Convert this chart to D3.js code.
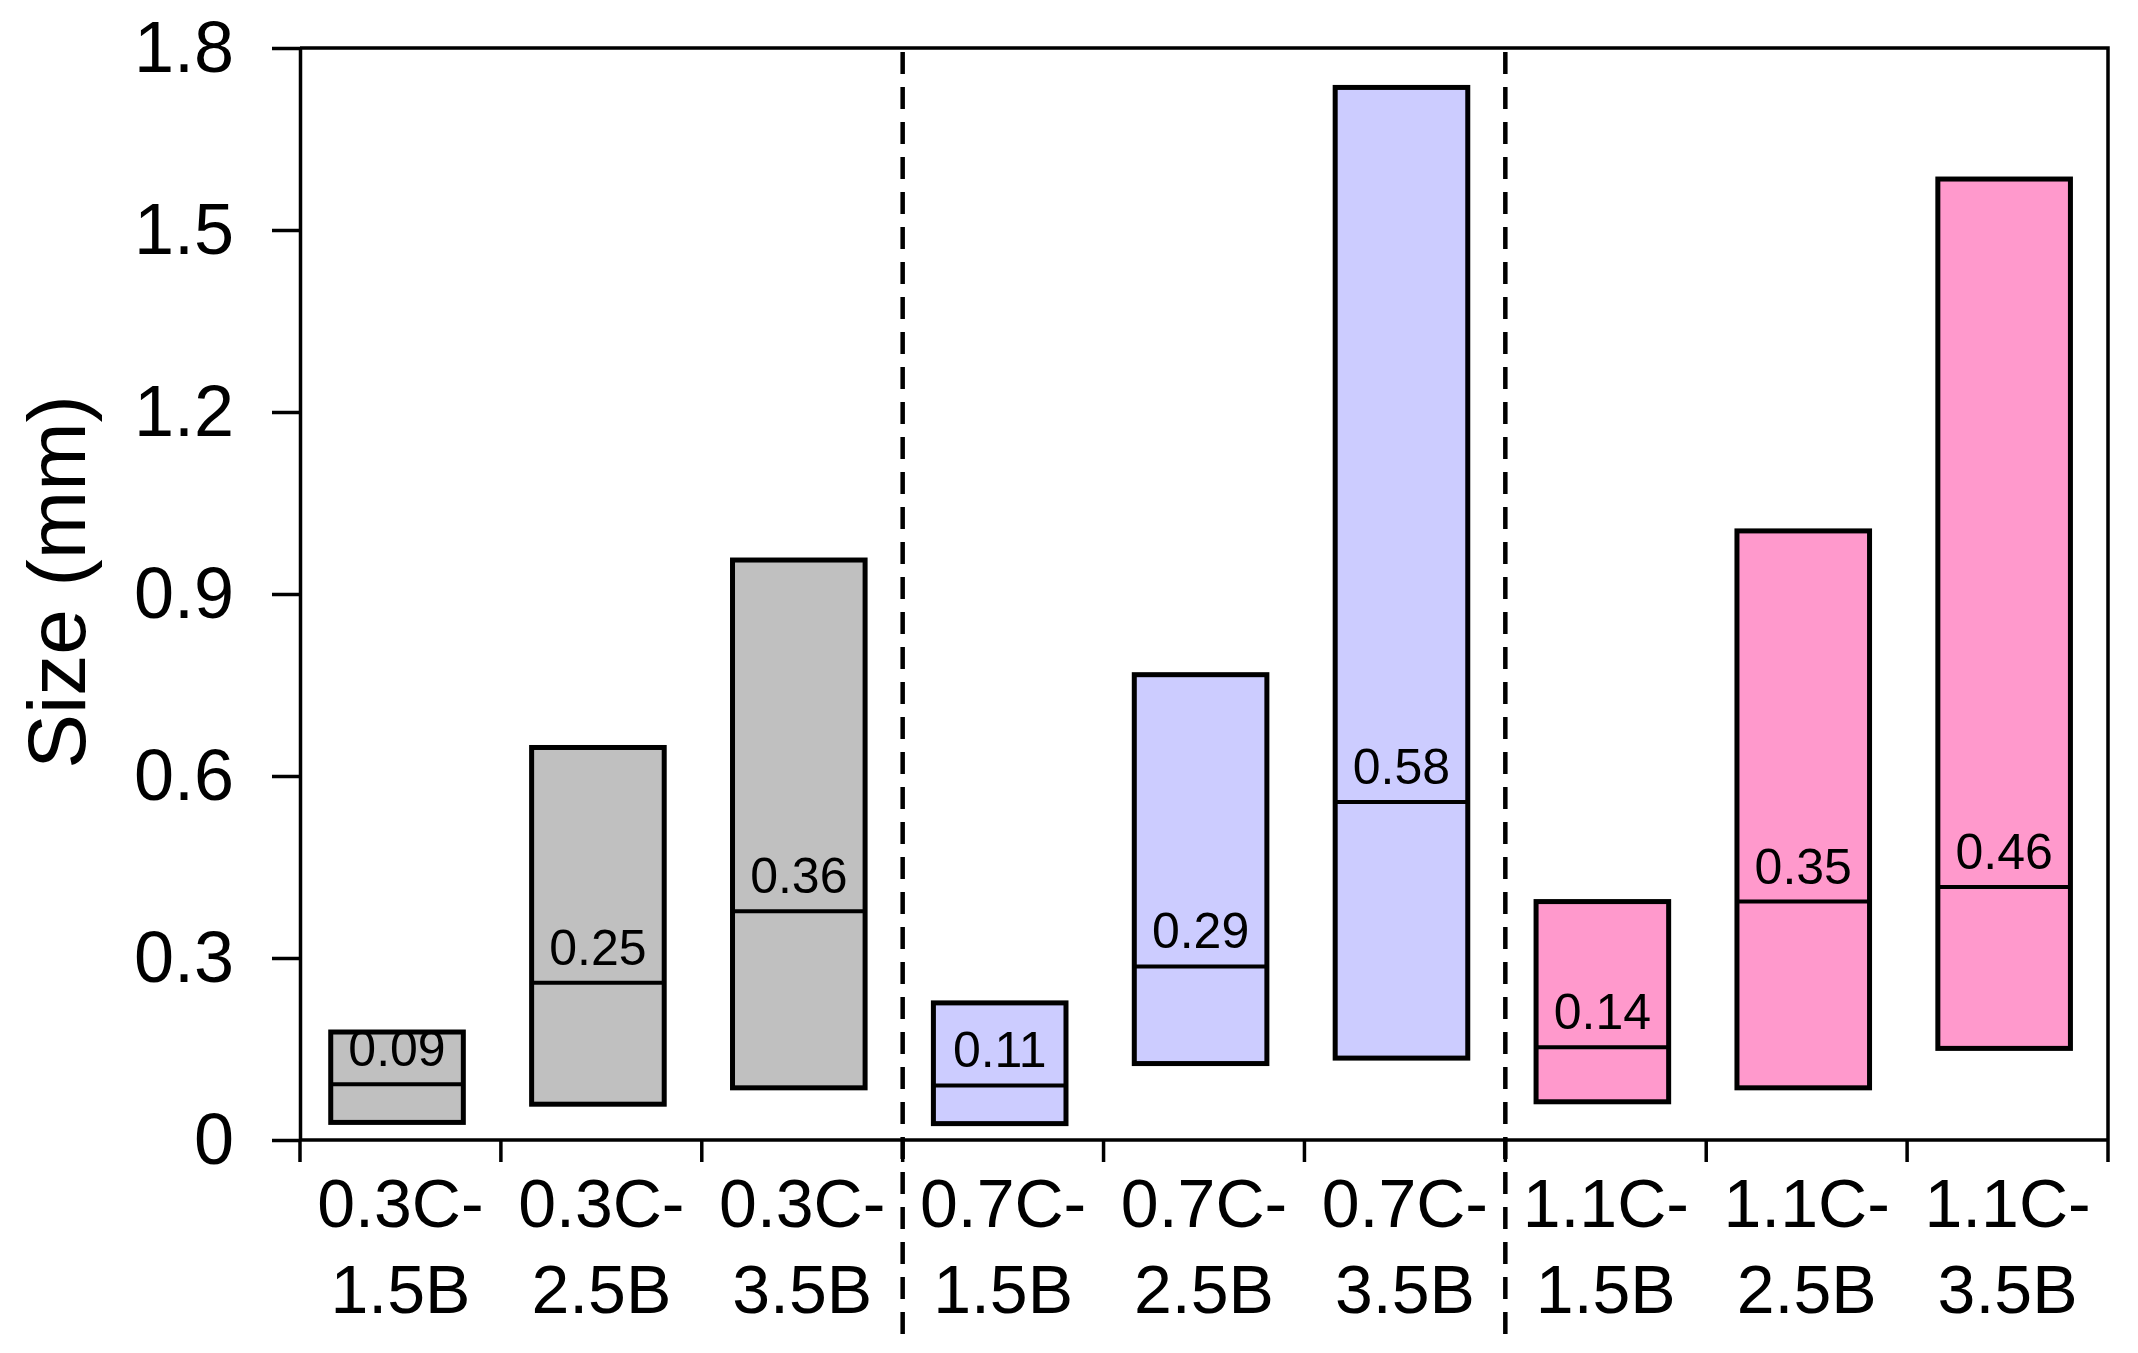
<!DOCTYPE html>
<html>
<head>
<meta charset="utf-8">
<script src="https://cdn.jsdelivr.net/npm/d3@7"></script>
<style>
  body { margin: 0; background: #fff; }
  svg { display: block; }
  text { font-family: "Liberation Sans", Arial, sans-serif; fill: #000; }
</style>
</head>
<body>
<svg id="chart"></svg>
<script>
// categories (two-line labels)
const labelTop = ["0.3C-", "0.3C-", "0.3C-", "0.7C-", "0.7C-", "0.7C-", "1.1C-", "1.1C-", "1.1C-"];
const labelBottom = ["1.5B", "2.5B", "3.5B", "1.5B", "2.5B", "3.5B", "1.5B", "2.5B", "3.5B"];
const categories = labelTop.map((t, i) => t + labelBottom[i]);

// range of sizes (mm) and median
const lows    = [0.029, 0.059, 0.086, 0.027, 0.126, 0.135, 0.063, 0.086, 0.151];
const highs   = [0.178, 0.647, 0.956, 0.226, 0.767, 1.735, 0.393, 1.004, 1.584];
const medians = [0.092, 0.259, 0.377, 0.090, 0.286, 0.557, 0.153, 0.393, 0.417];
const medianLabels = ["0.09", "0.25", "0.36", "0.11", "0.29", "0.58", "0.14", "0.35", "0.46"];
const groups = [0, 0, 0, 1, 1, 1, 2, 2, 2];
const groupColors = ["#c0c0c0", "#ccccff", "#ff99cc"];

const yTicks = [0, 0.3, 0.6, 0.9, 1.2, 1.5, 1.8];

const width = 2138, height = 1353;
const m = { left: 300, right: 2108, top: 48, bottom: 1140 };

const svg = d3.select("#chart").attr("width", width).attr("height", height);

const x = d3.scaleBand().domain(categories).range([m.left, m.right])
  .paddingInner(0.34).paddingOuter(0.17).align(0.45);
const y = d3.scaleLinear().domain([0, 1.8]).range([m.bottom, m.top]);

const data = categories.map((c, i) => ({
  cat: c, lo: lows[i], hi: highs[i], med: medians[i], label: medianLabels[i], g: groups[i]
}));

// frame (top and right)
svg.append("path")
  .attr("d", `M${m.left},${m.top}H${m.right}V${m.bottom}`)
  .attr("fill", "none").attr("stroke", "#000").attr("stroke-width", 3.5);

// boxes
const box = svg.append("g").selectAll("g").data(data).enter().append("g");
box.append("rect")
  .attr("x", d => x(d.cat))
  .attr("width", x.bandwidth())
  .attr("y", d => y(d.hi))
  .attr("height", d => y(d.lo) - y(d.hi))
  .attr("fill", d => groupColors[d.g])
  .attr("stroke", "#000").attr("stroke-width", 5);
box.append("line")
  .attr("x1", d => x(d.cat)).attr("x2", d => x(d.cat) + x.bandwidth())
  .attr("y1", d => y(d.med)).attr("y2", d => y(d.med))
  .attr("stroke", "#000").attr("stroke-width", 4);
box.append("text")
  .attr("x", d => x(d.cat) + x.bandwidth() / 2)
  .attr("y", d => y(d.med) - 18)
  .attr("text-anchor", "middle")
  .attr("font-size", 50)
  .text(d => d.label);

// y axis
const yAxis = d3.axisLeft(y).tickValues(yTicks)
  .tickFormat(d => d === 0 ? "0" : d.toFixed(1))
  .tickSize(28).tickPadding(38).tickSizeOuter(0);
const gy = svg.append("g").attr("transform", `translate(${m.left},0)`).call(yAxis);
gy.select(".domain").attr("stroke-width", 3.5);
gy.selectAll(".tick line").attr("stroke-width", 3.5);
gy.selectAll(".tick text").attr("font-size", 72).attr("font-family", "Liberation Sans, Arial, sans-serif");

// x axis line + boundary ticks (category edges)
const edges = d3.range(categories.length + 1).map(i => m.left + i * (m.right - m.left) / categories.length);
svg.append("line").attr("x1", m.left).attr("x2", m.right).attr("y1", m.bottom).attr("y2", m.bottom)
  .attr("stroke", "#000").attr("stroke-width", 3.5);
svg.append("g").selectAll("line").data(edges).enter().append("line")
  .attr("x1", d => d).attr("x2", d => d)
  .attr("y1", m.bottom).attr("y2", m.bottom + 22)
  .attr("stroke", "#000").attr("stroke-width", 3.5);

// group separators
const seps = [edges[3], edges[6]];
svg.append("g").selectAll("line").data(seps).enter().append("line")
  .attr("x1", d => d).attr("x2", d => d)
  .attr("y1", m.top + 4).attr("y2", 1342)
  .attr("stroke", "#000").attr("stroke-width", 4.5)
  .attr("stroke-dasharray", "22,13");

// x labels, centred in each category slot
const xl = svg.append("g").selectAll("text").data(data).enter().append("text")
  .attr("text-anchor", "middle")
  .attr("font-size", 68);
xl.append("tspan").attr("x", (d, i) => (edges[i] + edges[i + 1]) / 2).attr("y", 1227).text((d, i) => labelTop[i]);
xl.append("tspan").attr("x", (d, i) => (edges[i] + edges[i + 1]) / 2).attr("y", 1313).text((d, i) => labelBottom[i]);

// y title
svg.append("text")
  .attr("transform", `translate(85,${(m.top + m.bottom) / 2 - 12}) rotate(-90)`)
  .attr("text-anchor", "middle")
  .attr("font-size", 82)
  .text("Size (mm)");
</script>
</body>
</html>
